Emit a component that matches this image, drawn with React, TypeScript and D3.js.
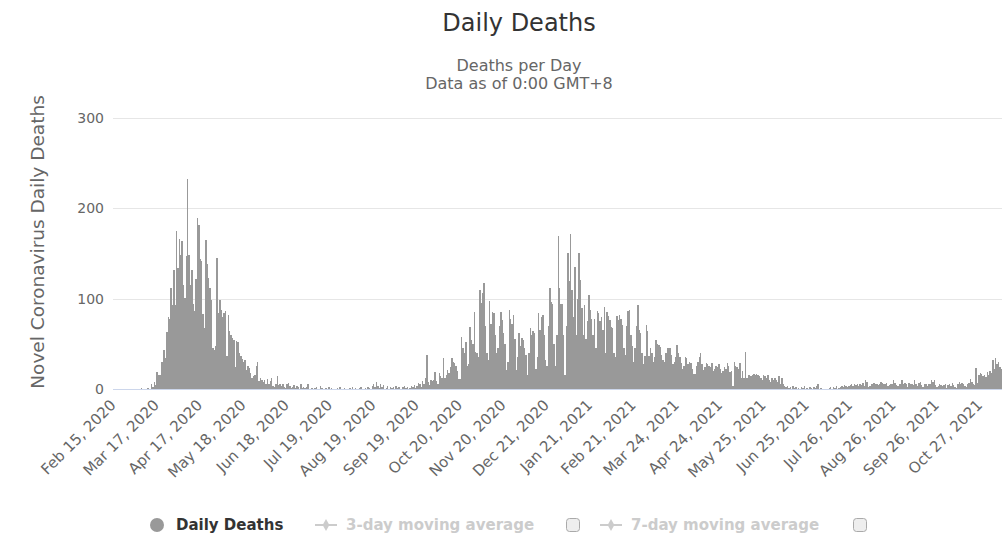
import * as d3 from "d3"

// daily deaths, one array per month
const feb2020 = [0, 0, 0, 0, 0, 0, 0, 0, 0, 0, 0, 0, 0, 0, 0]
const mar2020 = [0, 0, 0, 0, 0, 1, 0, 0, 0, 1, 1, 0, 5, 2, 8, 4, 19, 15, 15, 30, 30, 43, 34, 63, 80, 78, 112, 93, 132, 93, 175]
const apr2020 = [134, 166, 148, 164, 115, 101, 147, 232, 148, 115, 132, 94, 86, 122, 189, 181, 144, 142, 83, 67, 165, 138, 123, 112, 99, 45, 43, 48, 145, 84]
const may2020 = [98, 88, 80, 84, 86, 36, 82, 64, 60, 56, 54, 24, 53, 52, 40, 36, 33, 30, 32, 21, 25, 23, 18, 12, 14, 15, 25, 30, 9, 12, 10]
const jun2020 = [8, 10, 6, 11, 5, 9, 12, 3, 2, 6, 14, 4, 5, 3, 6, 2, 1, 5, 7, 3, 1, 2, 4, 1, 3, 2, 0, 5, 1, 2]
const jul2020 = [1, 2, 6, 0, 0, 1, 0, 1, 2, 0, 0, 3, 1, 0, 0, 1, 0, 2, 0, 1, 0, 0, 0, 1, 0, 2, 0, 0, 1, 0, 0]
const aug2020 = [0, 1, 0, 2, 0, 1, 0, 0, 1, 2, 0, 0, 1, 0, 2, 1, 0, 3, 5, 2, 8, 3, 1, 6, 2, 4, 0, 1, 3, 0, 2]
const sep2020 = [1, 2, 0, 3, 1, 2, 0, 0, 2, 3, 1, 2, 0, 1, 3, 2, 4, 1, 3, 7, 5, 2, 9, 6, 12, 38, 8, 4, 10, 9]
const oct2020 = [10, 19, 9, 6, 18, 14, 12, 34, 12, 15, 21, 18, 24, 34, 30, 29, 26, 20, 11, 11, 58, 45, 40, 52, 25, 28, 69, 54, 50, 85, 41]
const nov2020 = [40, 35, 110, 95, 106, 117, 70, 40, 32, 97, 72, 85, 84, 60, 40, 45, 70, 85, 76, 62, 50, 21, 30, 88, 77, 72, 82, 55, 21, 35]
const dec2020 = [62, 48, 57, 54, 45, 38, 15, 40, 67, 60, 64, 62, 22, 35, 84, 65, 80, 82, 60, 32, 25, 70, 112, 96, 94, 50, 25, 60, 169, 112, 94]
const jan2021 = [94, 60, 16, 70, 151, 120, 172, 110, 80, 135, 60, 100, 151, 121, 90, 60, 93, 55, 75, 104, 88, 77, 60, 77, 45, 86, 84, 75, 80, 65, 91]
const feb2021 = [40, 85, 81, 76, 69, 67, 40, 35, 81, 76, 82, 77, 71, 45, 38, 70, 86, 88, 60, 48, 30, 45, 70, 93, 65, 62, 40, 28]
const mar2021 = [36, 71, 64, 36, 45, 40, 30, 35, 54, 50, 49, 47, 38, 32, 30, 40, 45, 45, 45, 38, 28, 30, 35, 49, 40, 35, 29, 22, 25, 35, 34]
const apr2021 = [28, 30, 29, 22, 17, 17, 25, 30, 35, 40, 28, 21, 24, 29, 28, 26, 24, 29, 20, 22, 26, 24, 28, 22, 18, 20, 24, 22, 29, 25]
const may2021 = [19, 20, 3, 30, 26, 24, 22, 29, 12, 20, 12, 41, 12, 16, 15, 14, 15, 17, 16, 17, 15, 14, 12, 10, 16, 14, 12, 15, 10, 8, 12]
const jun2021 = [10, 12, 10, 8, 14, 5, 12, 5, 3, 2, 3, 1, 2, 0, 3, 1, 2, 0, 1, 0, 2, 1, 3, 0, 1, 0, 2, 1, 0, 2]
const jul2021 = [1, 3, 6, 0, 1, 0, 0, 0, 0, 0, 1, 2, 0, 2, 1, 3, 0, 1, 2, 3, 2, 4, 3, 2, 3, 4, 5, 3, 6, 4, 5]
const aug2021 = [3, 5, 4, 7, 3, 10, 8, 2, 3, 5, 6, 7, 5, 6, 4, 6, 8, 7, 6, 5, 7, 3, 4, 6, 5, 10, 7, 4, 3, 5, 6]
const sep2021 = [10, 6, 7, 5, 2, 7, 6, 6, 4, 10, 5, 3, 7, 8, 4, 2, 5, 6, 3, 5, 6, 10, 8, 10, 4, 2, 3, 5, 4, 3]
const oct2021 = [4, 5, 1, 4, 5, 3, 7, 4, 2, 1, 5, 8, 6, 7, 5, 3, 2, 6, 7, 11, 8, 5, 4, 23, 7, 15, 18, 17, 14, 16, 13]
const nov2021 = [19, 16, 20, 18, 32, 22, 34, 28, 30, 24, 22]

const deaths = [
  ...feb2020, ...mar2020, ...apr2020, ...may2020, ...jun2020, ...jul2020,
  ...aug2020, ...sep2020, ...oct2020, ...nov2020, ...dec2020, ...jan2021,
  ...feb2021, ...mar2021, ...apr2021, ...may2021, ...jun2021, ...jul2021,
  ...aug2021, ...sep2021, ...oct2021, ...nov2021,
]

const firstDay = new Date(Date.UTC(2020, 1, 15))
const days = d3.utcDay.range(firstDay, d3.utcDay.offset(firstDay, deaths.length))
const fmt = d3.utcFormat("%b %-d, %Y")
const categories = days.map((d) => fmt(d))
const labelEvery = 31
const yTicks = [0, 100, 200, 300]

const title = "Daily Deaths"
const subtitle = ["Deaths per Day", "Data as of 0:00 GMT+8"]
const yTitle = "Novel Coronavirus Daily Deaths"
const legendItems = ["Daily Deaths", "3-day moving average", "7-day moving average"]

const FONT = "'DejaVu Sans', sans-serif"

export default function App() {
  const width = 1002
  const height = 550
  const plot = { left: 113, right: 1002, top: 118, bottom: 389 }

  const x = d3.scaleBand<number>()
    .domain(d3.range(deaths.length))
    .range([plot.left, plot.right])
    .padding(0)
  const y = d3.scaleLinear().domain([0, 300]).range([plot.bottom, plot.top])

  const tickIdx = d3.range(0, deaths.length, labelEvery)
  const diamond = d3.symbol(d3.symbolDiamond, 40)() ?? ""

  return (
    <div style={{ position: "absolute", left: 0, top: 0 }}>
      <svg width={width} height={height} style={{ display: "block", background: "#fff" }} fontFamily={FONT}>
        <text x={519} y={31} textAnchor="middle" fontSize={24} fill="#333">{title}</text>
        <text x={519} y={71} textAnchor="middle" fontSize={16} fill="#666">{subtitle[0]}</text>
        <text x={519} y={89} textAnchor="middle" fontSize={16} fill="#666">{subtitle[1]}</text>

        {/* grid + y labels */}
        {yTicks.map((t) => (
          <g key={t}>
            <line x1={plot.left} x2={plot.right} y1={Math.round(y(t)) + 0.5} y2={Math.round(y(t)) + 0.5}
              stroke={t === 0 ? "#ccd6eb" : "#e6e6e6"} />
            <text x={104} y={y(t) + 5} textAnchor="end" fontSize={14} fill="#666">{t}</text>
          </g>
        ))}

        <text transform={`translate(44, 242) rotate(-90)`} textAnchor="middle" fontSize={18.5} fill="#666">{yTitle}</text>

        {/* bars */}
        <g fill="#999" shapeRendering="crispEdges">
          {deaths.map((v, i) => (
            <rect key={i} x={x(i)} width={x.bandwidth()} y={y(v)} height={y(0) - y(v)} />
          ))}
        </g>

        {/* x labels */}
        {tickIdx.map((i) => {
          const cx = (x(i) ?? 0) + x.bandwidth() / 2
          return (
            <text key={i} transform={`translate(${cx + 3}, 406) rotate(-45)`} textAnchor="end" fontSize={15} fill="#666">
              {categories[i]}
            </text>
          )
        })}

        {/* legend */}
        <g fontWeight="bold" fontSize={15}>
          <circle cx={157} cy={525} r={7} fill="#999" />
          <text x={176} y={530} fill="#333">{legendItems[0]}</text>

          <line x1={315} x2={337} y1={525} y2={525} stroke="#ccc" strokeWidth={2} />
          <path d={diamond} transform="translate(326,525)" fill="#ccc" />
          <text x={346} y={530} fill="#ccc">{legendItems[1]}</text>
          <rect x={566.5} y={518.5} width={13} height={13} rx={3} fill="#eee" stroke="#aaa" />

          <line x1={600} x2={622} y1={525} y2={525} stroke="#ccc" strokeWidth={2} />
          <path d={diamond} transform="translate(611,525)" fill="#ccc" />
          <text x={631} y={530} fill="#ccc">{legendItems[2]}</text>
          <rect x={853.5} y={518.5} width={13} height={13} rx={3} fill="#eee" stroke="#aaa" />
        </g>
      </svg>
    </div>
  )
}
